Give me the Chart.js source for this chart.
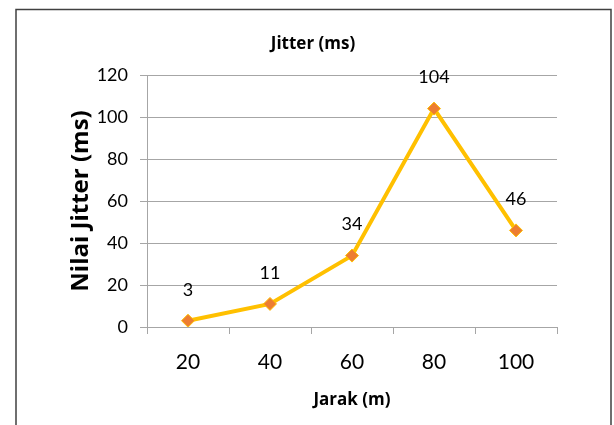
<!DOCTYPE html>
<html>
<head>
<meta charset="utf-8">
<script src="https://cdn.jsdelivr.net/npm/chart.js@4"></script>
<style>
  html, body { margin: 0; padding: 0; background: #fff; }
  #wrap { position: relative; width: 614px; height: 425px; }
</style>
</head>
<body>
<div id="wrap"><canvas id="c" width="614" height="425"></canvas></div>
<script>
// Jitter measured at each distance
const distances = ['20', '40', '60', '80', '100'];
const jitterMs = [3, 11, 34, 104, 46];
const yTicks = [0, 20, 40, 60, 80, 100, 120];

const FONT = 'Lato, "Open Sans", sans-serif';
const BOLD_FONT = '"Open Sans", Lato, sans-serif';

// outer frame and chart heading
const framePlugin = {
  id: 'frame',
  beforeDraw(chart) {
    const ctx = chart.ctx;
    ctx.save();
    ctx.strokeStyle = '#404040';
    ctx.lineWidth = 1.5;
    ctx.beginPath();
    ctx.moveTo(16, 425);
    ctx.lineTo(16, 9.5);
    ctx.lineTo(611, 9.5);
    ctx.lineTo(611, 425);
    ctx.stroke();
    ctx.restore();
  },
  afterDraw(chart) {
    const ctx = chart.ctx;
    ctx.save();
    ctx.fillStyle = '#000';
    ctx.font = 'bold 17px ' + BOLD_FONT;
    ctx.textAlign = 'center';
    ctx.textBaseline = 'middle';
    ctx.fillText('Jitter (ms)', 313, 44);
    ctx.restore();
  }
};

// value labels above each point
const valueLabels = {
  id: 'valueLabels',
  afterDatasetsDraw(chart) {
    const ctx = chart.ctx;
    const meta = chart.getDatasetMeta(0);
    ctx.save();
    ctx.fillStyle = '#000';
    ctx.font = '18px ' + FONT;
    ctx.textAlign = 'center';
    ctx.textBaseline = 'middle';
    meta.data.forEach((pt, i) => {
      ctx.fillText(String(jitterMs[i]), pt.x, pt.y - 31);
    });
    ctx.restore();
  }
};

new Chart(document.getElementById('c'), {
  type: 'line',
  data: {
    labels: distances,
    datasets: [{
      data: jitterMs,
      borderColor: '#FFC000',
      borderWidth: 4,
      pointStyle: 'rectRot',
      pointRadius: 6.5,
      pointBackgroundColor: '#ED7D31',
      pointBorderColor: '#FFC000',
      pointBorderWidth: 1,
      tension: 0
    }]
  },
  options: {
    responsive: false,
    animation: false,
    layout: { padding: { left: 0, right: 57, top: 75, bottom: 0 } },
    plugins: {
      legend: { display: false },
      title: { display: false },
      tooltip: { enabled: false }
    },
    scales: {
      x: {
        offset: true,
        grid: {
          offset: true,
          drawOnChartArea: false,
          drawTicks: true,
          tickLength: 7,
          color: '#A6A6A6'
        },
        border: { color: '#A6A6A6' },
        ticks: {
          color: '#000',
          font: { family: FONT, size: 21 },
          padding: 16,
          maxRotation: 0
        },
        title: {
          display: true,
          text: 'Jarak (m)',
          color: '#000',
          font: { family: BOLD_FONT, size: 17, weight: 'bold' },
          padding: { top: 0, bottom: 15 }
        },
        afterFit(scale) { scale.height = 98; }
      },
      y: {
        min: 0,
        max: 120,
        afterBuildTicks(scale) { scale.ticks = yTicks.map(v => ({ value: v })); },
        grid: {
          color: '#A6A6A6',
          tickLength: 7
        },
        border: { color: '#A6A6A6' },
        ticks: {
          color: '#000',
          font: { family: FONT, size: 18 },
          padding: 12
        },
        title: {
          display: true,
          text: 'Nilai Jitter (ms)',
          color: '#000',
          font: { family: BOLD_FONT, size: 24, weight: 'bold' },
          padding: { top: 67, bottom: 0 }
        },
        afterFit(scale) { scale.width = 147; }
      }
    }
  },
  plugins: [framePlugin, valueLabels]
});
</script>
</body>
</html>
